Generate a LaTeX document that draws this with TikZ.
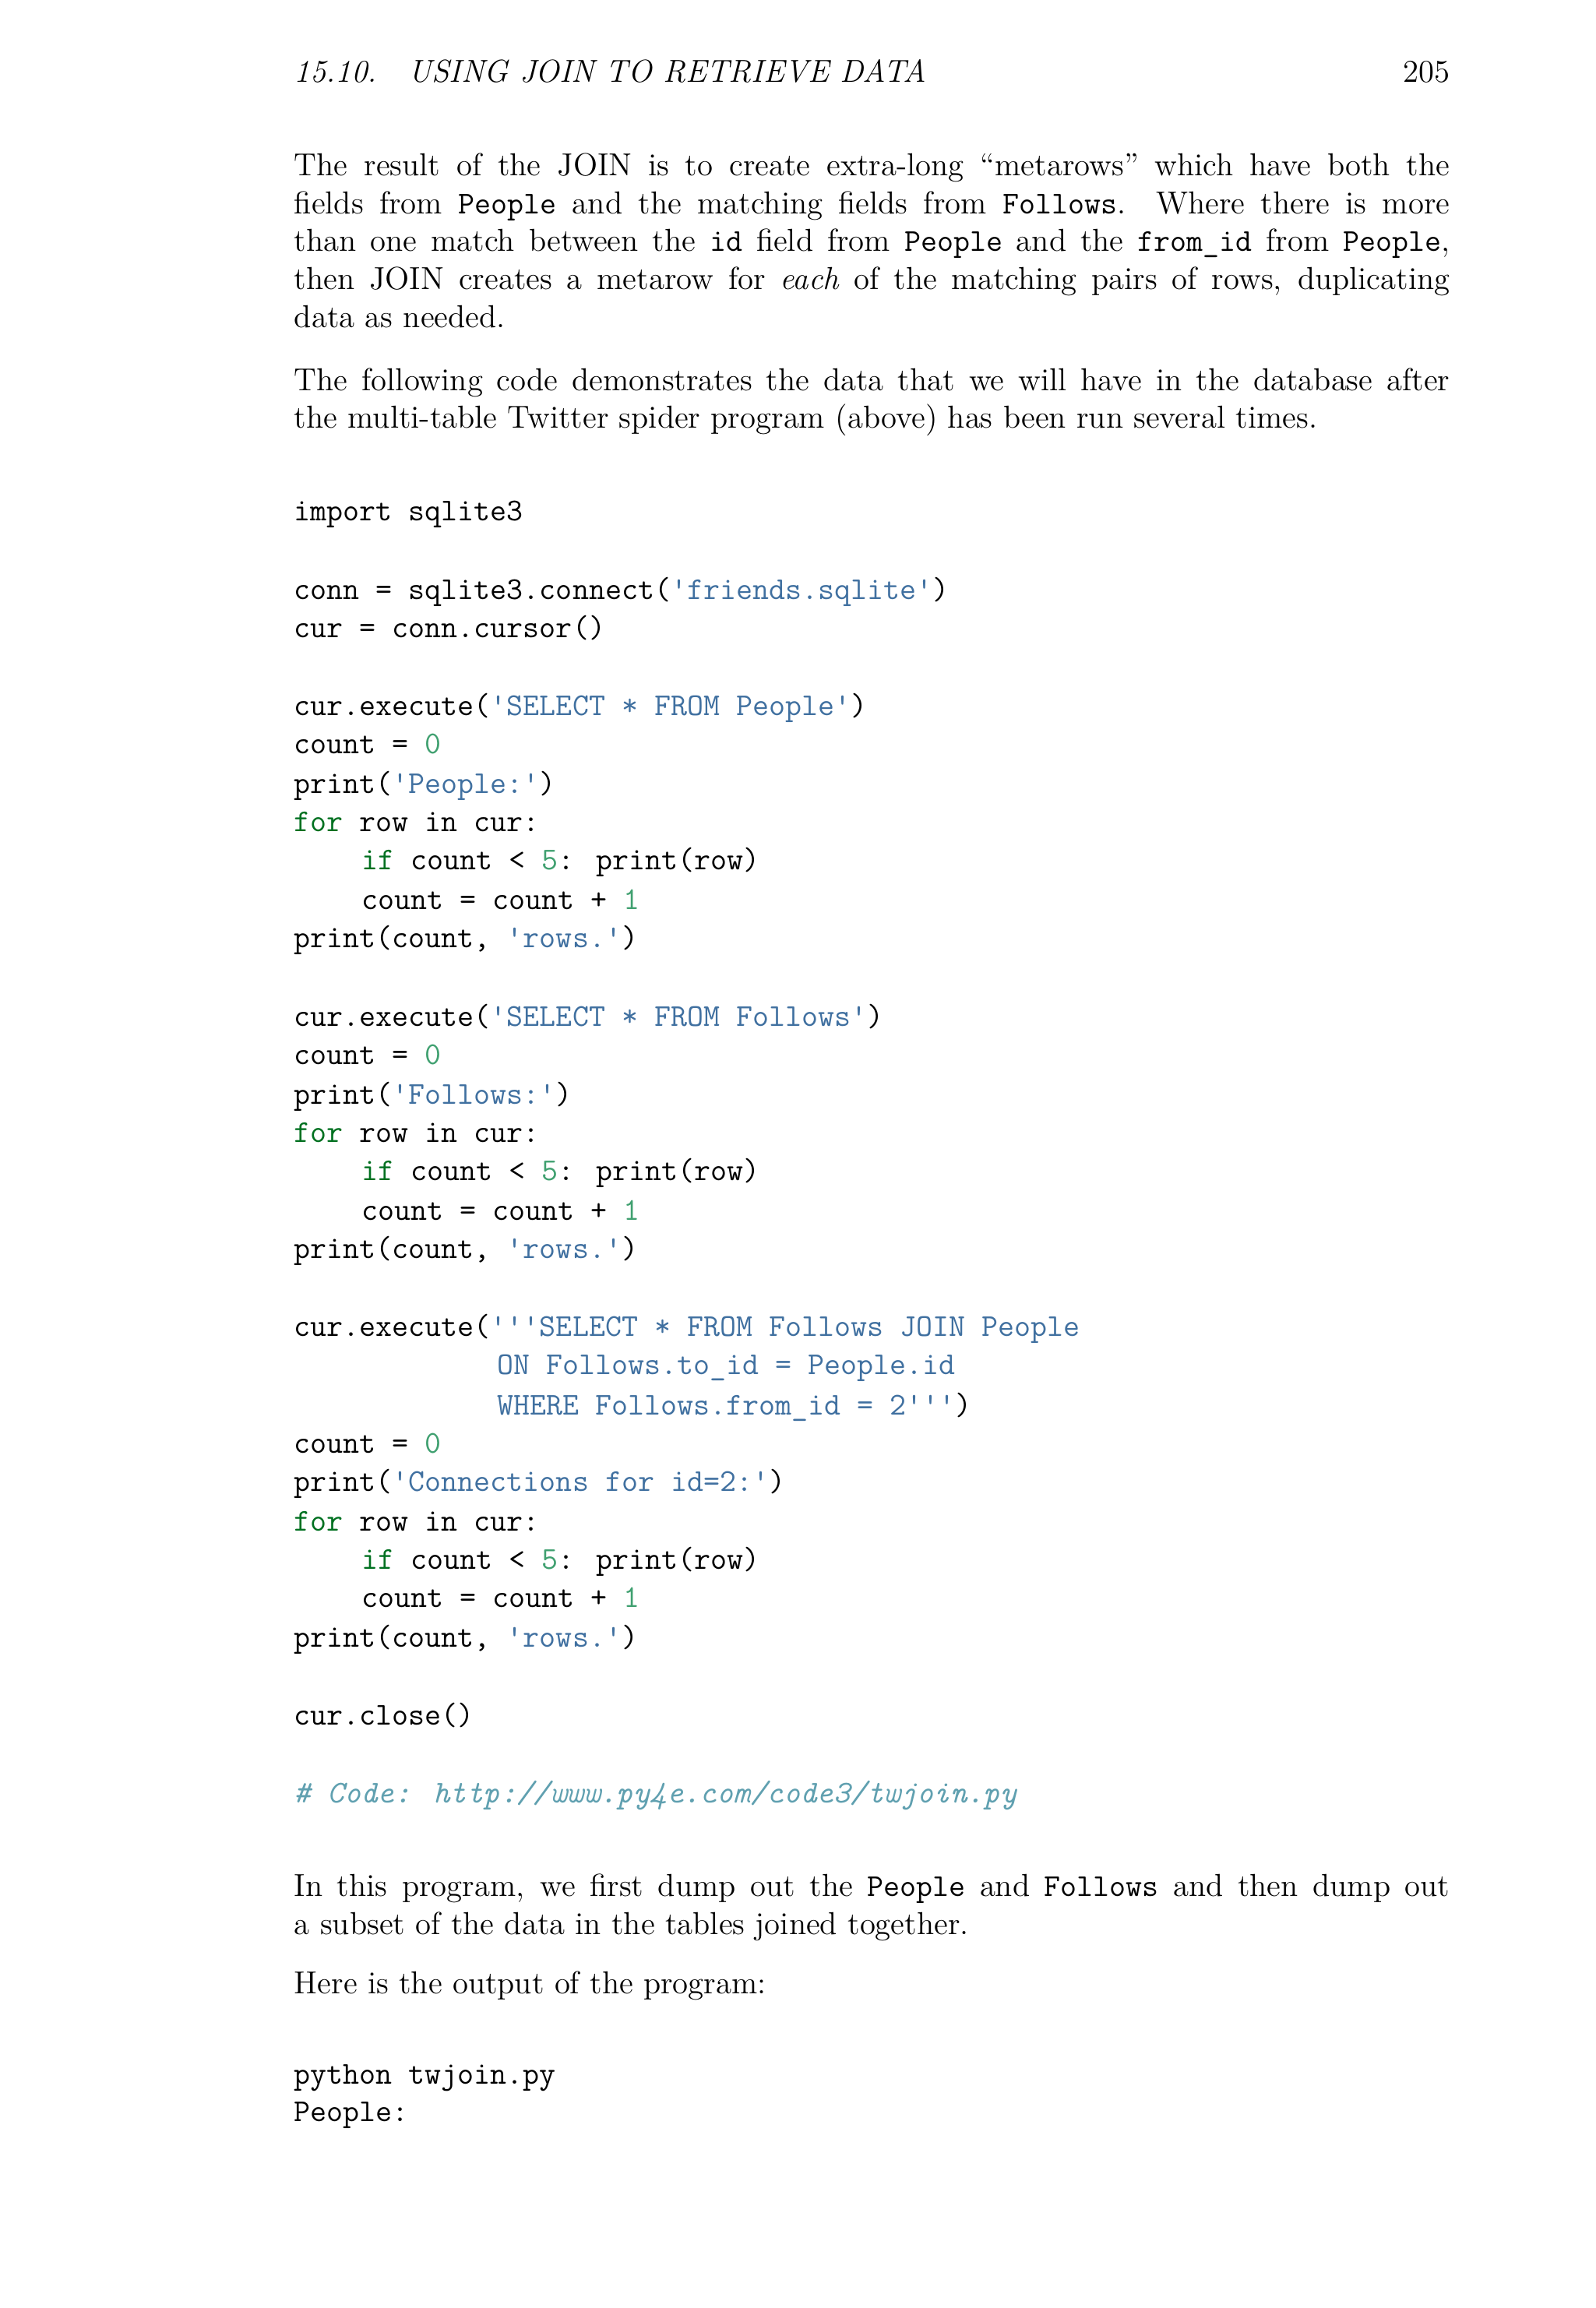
\documentclass[tikz,border=0pt]{standalone}
\usepackage{fontspec}
\definecolor{kwc}{RGB}{0,112,32}
\definecolor{strc}{RGB}{64,112,160}
\definecolor{numc}{RGB}{64,160,112}
\definecolor{comc}{RGB}{96,160,176}
\newcommand{\kw}[1]{\textcolor{kwc}{#1}}
\newcommand{\st}[1]{\textcolor{strc}{#1}}
\newcommand{\nm}[1]{\textcolor{numc}{#1}}
\newcommand{\q}{\textquotesingle}
\begin{document}
\begin{tikzpicture}[x=0.018893cm,y=-0.018893cm,
  base/.style={inner sep=0pt,outer sep=0pt,font=\fontsize{11.6}{13.9}\selectfont},
  txt/.style={base,anchor=north west,text width=14.83cm,align=justify},
  code/.style={base,anchor=mid west,font=\fontsize{11.6}{13.9}\selectfont\ttfamily}]
\useasboundingbox (0,0) rectangle (1084,1568);
\node[base,anchor=mid west,font=\fontsize{11.6}{13.9}\selectfont\itshape] (hd) at (200,52) {15.10.\quad USING JOIN TO RETRIEVE DATA};
\node[base,anchor=mid east] (pg) at (985,52) {205};
\node[txt] (p1) at (200,104) {The result of the JOIN is to create extra-long “metarows” which have both the\linebreak fields from \texttt{People} and the matching fields from \texttt{Follows}. Where there is more\linebreak than one match between the \texttt{id} field from \texttt{People} and the \texttt{from\_id} from \texttt{People},\linebreak then JOIN creates a metarow for \emph{each} of the matching pairs of rows, duplicating\linebreak data as needed.};
\node[txt] (p2) at (200,250) {The following code demonstrates the data that we will have in the database after\linebreak the multi-table Twitter spider program (above) has been run several times.};
\node[code] (c1) at (200,350) {import sqlite3};
\node[code] (c2) at (200,403) {conn = sqlite3.connect(\st{\q friends.sqlite\q})};
\node[code] (c3) at (200,429) {cur = conn.cursor()};
\node[code] (c4) at (200,482) {cur.execute(\st{\q SELECT * FROM People\q})};
\node[code] (c5) at (200,508) {count = \nm{0}};
\node[code] (c6) at (200,535) {print(\st{\q People:\q})};
\node[code] (c7) at (200,561) {\kw{for} row in cur:};
\node[code] (c8) at (246,587) {\kw{if} count < \nm{5}: print(row)};
\node[code] (c9) at (246,614) {count = count + \nm{1}};
\node[code] (c10) at (200,640) {print(count, \st{\q rows.\q})};
\node[code] (c11) at (200,693) {cur.execute(\st{\q SELECT * FROM Follows\q})};
\node[code] (c12) at (200,719) {count = \nm{0}};
\node[code] (c13) at (200,746) {print(\st{\q Follows:\q})};
\node[code] (c14) at (200,772) {\kw{for} row in cur:};
\node[code] (c15) at (246,798) {\kw{if} count < \nm{5}: print(row)};
\node[code] (c16) at (246,825) {count = count + \nm{1}};
\node[code] (c17) at (200,851) {print(count, \st{\q rows.\q})};
\node[code] (c18) at (200,904) {cur.execute(\st{\q\q\q SELECT * FROM Follows JOIN People}};
\node[code] (c19) at (338,930) {\st{ON Follows.to\_id = People.id}};
\node[code] (c20) at (338,957) {\st{WHERE Follows.from\_id = 2\q\q\q})};
\node[code] (c21) at (200,983) {count = \nm{0}};
\node[code] (c22) at (200,1009) {print(\st{\q Connections for id=2:\q})};
\node[code] (c23) at (200,1036) {\kw{for} row in cur:};
\node[code] (c24) at (246,1062) {\kw{if} count < \nm{5}: print(row)};
\node[code] (c25) at (246,1088) {count = count + \nm{1}};
\node[code] (c26) at (200,1115) {print(count, \st{\q rows.\q})};
\node[code] (c27) at (200,1168) {cur.close()};
\node[code,font=\fontsize{11.6}{13.9}\selectfont\ttfamily\itshape,text=comc] (c28) at (200,1221) {\# Code: http://www.py4e.com/code3/twjoin.py};
\node[txt] (p3) at (200,1273) {In this program, we first dump out the \texttt{People} and \texttt{Follows} and then dump out\linebreak a subset of the data in the tables joined together.};
\node[txt] (p4) at (200,1339) {Here is the output of the program:};
\node[code] (o1) at (200,1412) {python twjoin.py};
\node[code] (o2) at (200,1437) {People:};
\end{tikzpicture}
\end{document}
